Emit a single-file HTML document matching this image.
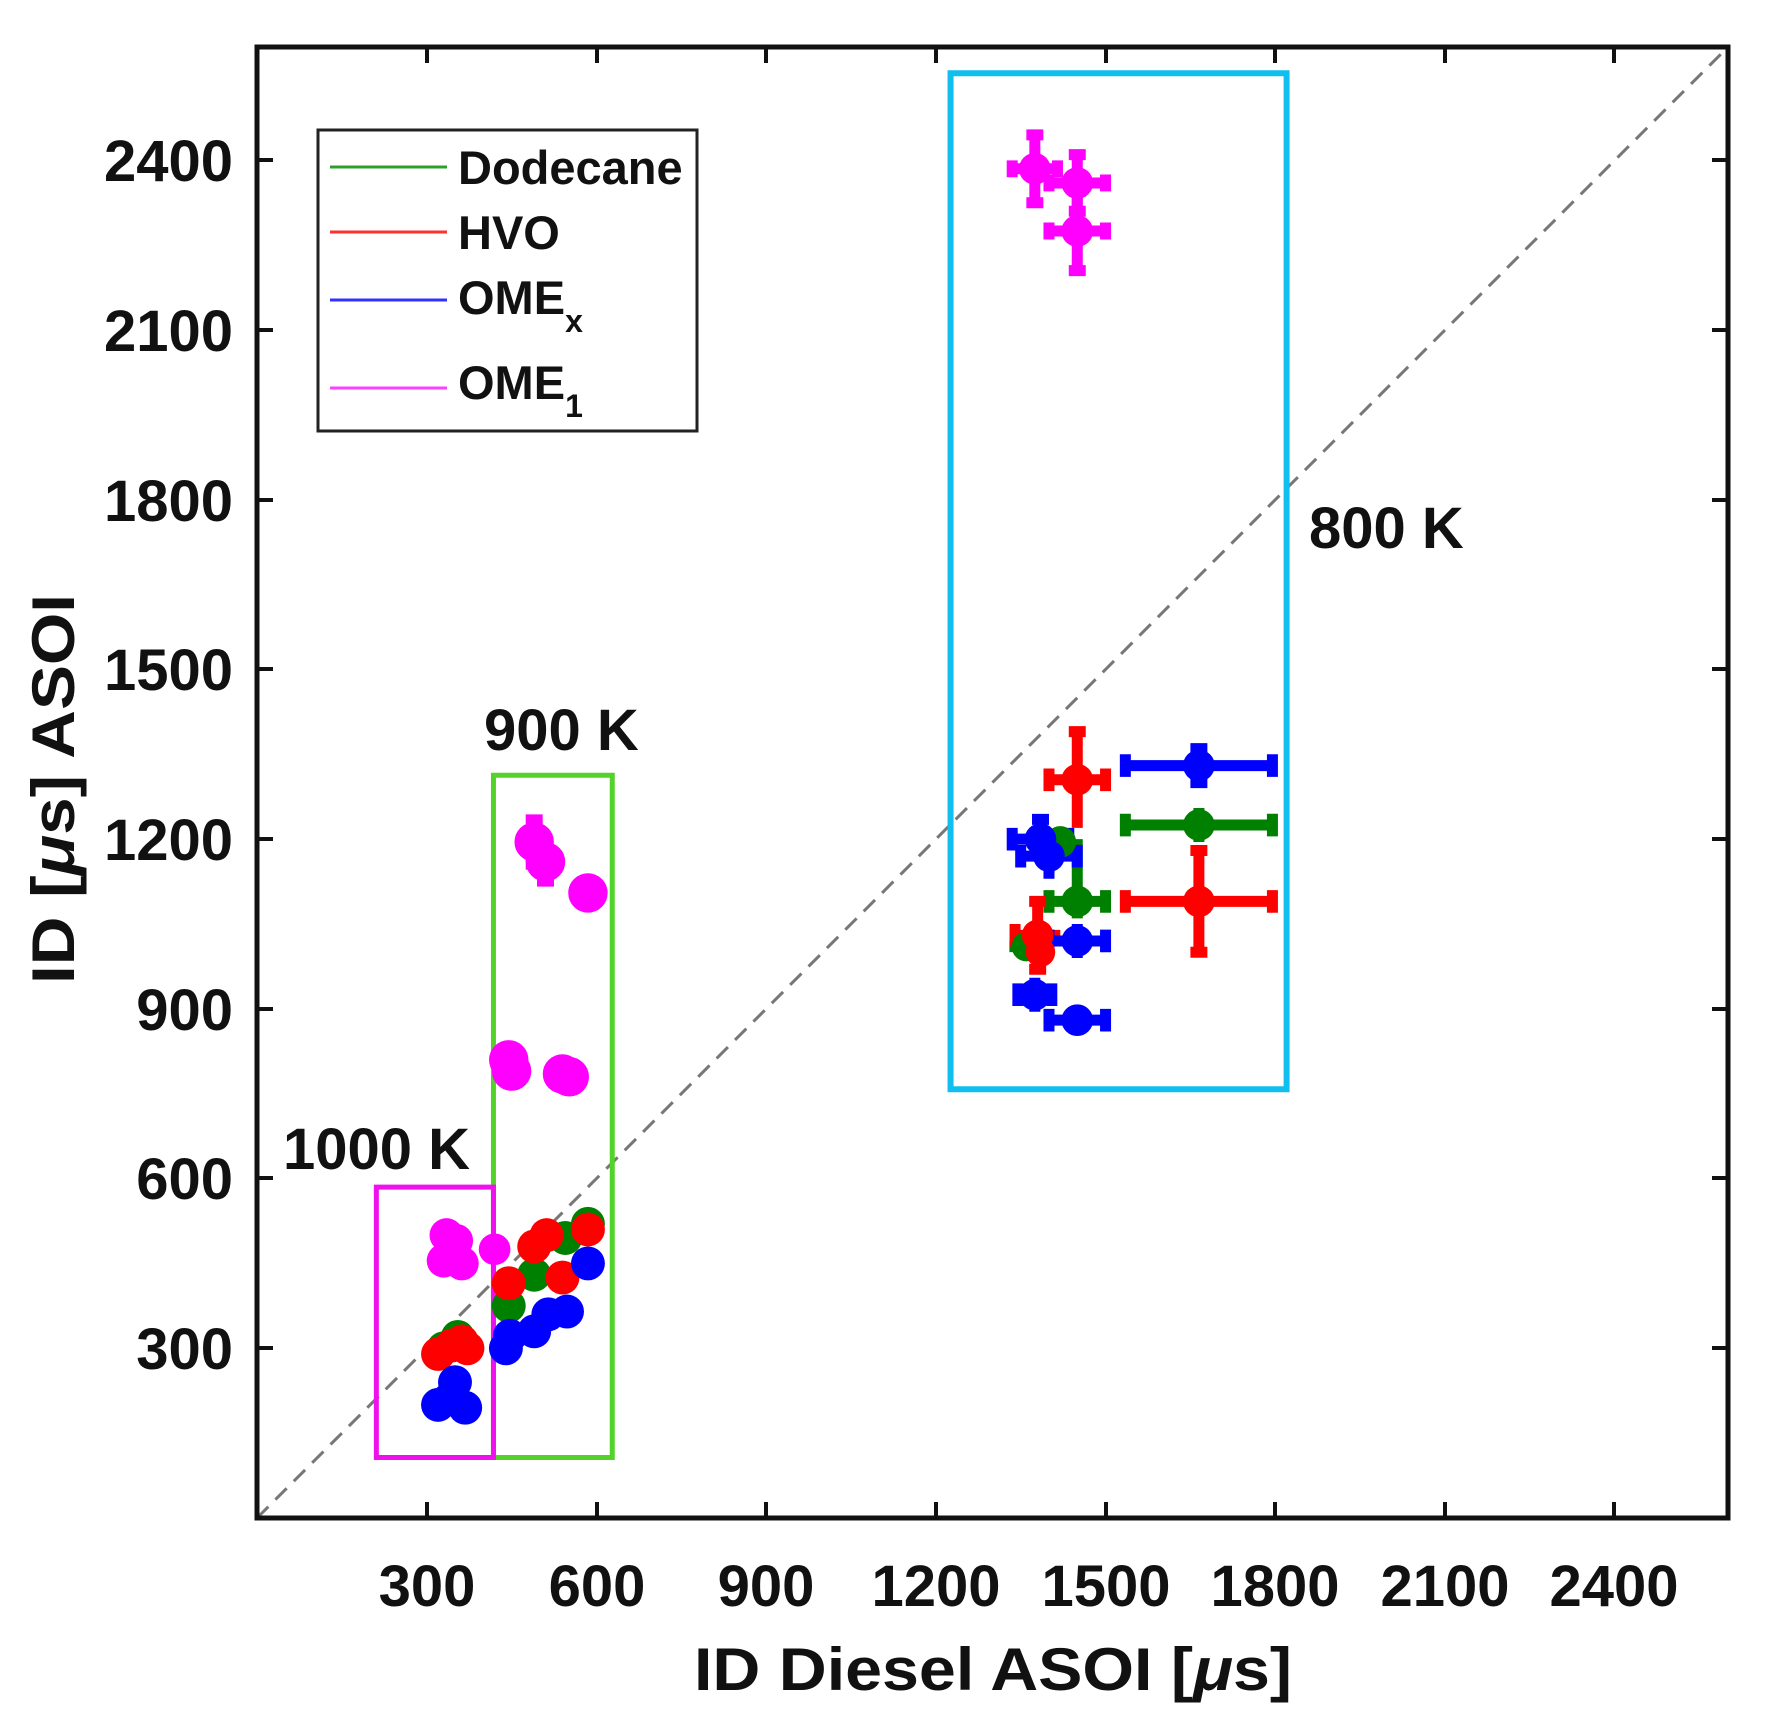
<!DOCTYPE html>
<html><head><meta charset="utf-8"><style>
html,body{margin:0;padding:0;background:#fff}
svg{display:block}
text{font-family:"Liberation Sans",Arial,sans-serif;font-weight:bold;fill:#111}
.d *{vector-effect:non-scaling-stroke}
</style></head><body>
<svg width="1765" height="1724" viewBox="0 0 1765 1724" xmlns="http://www.w3.org/2000/svg">
<rect width="1765" height="1724" fill="#fff"/>
<line x1="257" y1="1518" x2="1728" y2="47" stroke="#777" stroke-width="3" stroke-dasharray="16,10"/>
<g class="d" transform="matrix(0.5657,0,0,-0.5657,257,1518)">
 <rect x="418" y="107" width="210" height="1206" fill="none" stroke="#55d22a" stroke-width="5"/>
 <rect x="211" y="107" width="207" height="478" fill="none" stroke="#ee11ee" stroke-width="5"/>
 <rect x="1226" y="758" width="594" height="1796" fill="none" stroke="#10bff0" stroke-width="6"/>
 <g fill="#ff00ff">
  <circle cx="335" cy="500" r="30"/><circle cx="352" cy="490" r="30"/><circle cx="345" cy="460" r="30"/><circle cx="362" cy="450" r="30"/><circle cx="330" cy="455" r="30"/><circle cx="420" cy="475" r="28"/>
 </g>
 <g fill="#008000">
  <circle cx="330" cy="300" r="30"/><circle cx="355" cy="320" r="30"/><circle cx="445" cy="375" r="30"/><circle cx="490" cy="430" r="30"/><circle cx="545" cy="495" r="30"/><circle cx="585" cy="520" r="30"/>
 </g>
 <g fill="#ff0000">
  <circle cx="320" cy="290" r="30"/><circle cx="345" cy="305" r="30"/><circle cx="362" cy="312" r="30"/><circle cx="372" cy="300" r="30"/>
  <circle cx="445" cy="415" r="30"/><circle cx="490" cy="480" r="30"/><circle cx="512" cy="500" r="30"/><circle cx="540" cy="425" r="30"/><circle cx="585" cy="510" r="30"/>
 </g>
 <g fill="#0000ff">
  <circle cx="320" cy="200" r="30"/><circle cx="350" cy="240" r="30"/><circle cx="368" cy="195" r="30"/><circle cx="340" cy="210" r="30"/>
  <circle cx="440" cy="300" r="30"/><circle cx="447" cy="322" r="30"/><circle cx="490" cy="330" r="30"/><circle cx="515" cy="360" r="30"/><circle cx="548" cy="365" r="30"/><circle cx="585" cy="450" r="30"/>
 </g>
 <g fill="#ff00ff" stroke="#ff00ff" stroke-width="10">
  <circle cx="490" cy="1195" r="26"/><path d="M490 1155V1235M475 1235H505M475 1155H505"/>
  <circle cx="510" cy="1160" r="26"/><path d="M510 1125V1195M495 1125H525"/>
  <circle cx="585" cy="1105" r="26"/><circle cx="445" cy="810" r="26"/><circle cx="450" cy="790" r="26"/><circle cx="540" cy="785" r="26"/><circle cx="552" cy="780" r="26"/>
 </g>
 <g stroke-width="11" fill="none">
  <g stroke="#ff00ff"><path d="M1335 2385H1415M1335 2370V2400M1415 2370V2400M1375 2325V2445M1360 2325H1390M1360 2445H1390"/>
   <path d="M1400 2360H1500M1400 2345V2375M1500 2345V2375M1450 2310V2410M1435 2310H1465M1435 2410H1465"/>
   <path d="M1400 2275H1500M1400 2260V2290M1500 2260V2290M1450 2205V2345M1435 2205H1465M1435 2345H1465"/></g>
  <g stroke="#008000"><path d="M1535 1225H1795M1535 1205V1245M1795 1205V1245M1665 1195V1255"/>
   <path d="M1400 1090H1500M1400 1070V1110M1500 1070V1110M1450 1060V1200"/>
   <path d="M1330 1010H1400"/></g>
  <g stroke="#ff0000"><path d="M1400 1305H1500M1400 1285V1325M1500 1285V1325M1450 1220V1390M1435 1390H1465"/>
   <path d="M1535 1090H1795M1535 1070V1110M1795 1070V1110M1665 1000V1180M1650 1000H1680M1650 1180H1680"/>
   <path d="M1340 1030H1420M1340 1010V1050M1380 970V1090M1365 970H1395M1365 1090H1395"/></g>
  <g stroke="#0000ff"><path d="M1535 1330H1795M1535 1310V1350M1795 1310V1350M1665 1300V1360M1650 1360H1680M1650 1300H1680"/>
   <path d="M1335 1200H1435M1335 1180V1220M1435 1180V1220M1385 1165V1235M1370 1235H1400"/>
   <path d="M1350 1170H1450M1350 1150V1190M1450 1150V1190M1400 1130V1210"/>
   <path d="M1400 1020H1500M1400 1000V1040M1500 1000V1040M1450 990V1050"/>
   <path d="M1345 925H1405M1345 905V945M1405 905V945M1375 895V955"/>
   <path d="M1400 880H1500M1400 860V900M1500 860V900M1450 855V905"/></g>
 </g>
 <g fill="#ff00ff"><circle cx="1375" cy="2385" r="28"/><circle cx="1450" cy="2360" r="28"/><circle cx="1450" cy="2275" r="28"/></g>
 <g fill="#008000"><circle cx="1665" cy="1225" r="28"/><circle cx="1450" cy="1090" r="28"/><circle cx="1420" cy="1195" r="28"/><circle cx="1360" cy="1010" r="26"/></g>
 <g fill="#ff0000"><circle cx="1450" cy="1305" r="28"/><circle cx="1665" cy="1090" r="28"/><circle cx="1380" cy="1030" r="28"/><circle cx="1385" cy="1000" r="26"/></g>
 <g fill="#0000ff"><circle cx="1665" cy="1330" r="28"/><circle cx="1385" cy="1200" r="28"/><circle cx="1400" cy="1170" r="28"/><circle cx="1450" cy="1020" r="28"/><circle cx="1375" cy="925" r="28"/><circle cx="1450" cy="880" r="28"/></g>
</g>
<rect x="257" y="47" width="1471" height="1471" fill="none" stroke="#111" stroke-width="5"/>
<g stroke="#111" stroke-width="4">
 <path d="M427 1518V1502M597 1518V1502M766 1518V1502M936 1518V1502M1106 1518V1502M1275 1518V1502M1445 1518V1502M1614 1518V1502
 M427 47V63M597 47V63M766 47V63M936 47V63M1106 47V63M1275 47V63M1445 47V63M1614 47V63
 M257 1348H273M257 1178H273M257 1009H273M257 839H273M257 669H273M257 500H273M257 330H273M257 160H273
 M1728 1348H1712M1728 1178H1712M1728 1009H1712M1728 839H1712M1728 669H1712M1728 500H1712M1728 330H1712M1728 160H1712"/>
</g>
<g font-size="58" text-anchor="end">
 <text x="233" y="1369">300</text><text x="233" y="1199">600</text><text x="233" y="1030">900</text><text x="233" y="860">1200</text>
 <text x="233" y="690">1500</text><text x="233" y="521">1800</text><text x="233" y="351">2100</text><text x="233" y="181">2400</text>
</g>
<g font-size="58" text-anchor="middle">
 <text x="427" y="1606">300</text><text x="597" y="1606">600</text><text x="766" y="1606">900</text><text x="936" y="1606">1200</text>
 <text x="1106" y="1606">1500</text><text x="1275" y="1606">1800</text><text x="1445" y="1606">2100</text><text x="1614" y="1606">2400</text>
 <text x="993" y="1690" font-size="60" textLength="598" lengthAdjust="spacingAndGlyphs">ID Diesel ASOI [<tspan font-style="italic">μ</tspan>s]</text>
 <text transform="translate(74,789) rotate(-90)" font-size="60" textLength="390" lengthAdjust="spacingAndGlyphs">ID [<tspan font-style="italic">μ</tspan>s] ASOI</text>
</g>
<g font-size="58">
 <text x="283" y="1169">1000 K</text><text x="484" y="750">900 K</text><text x="1309" y="548">800 K</text>
</g>
<rect x="318" y="130" width="379" height="301" fill="#fff" stroke="#222" stroke-width="3"/>
<g stroke-width="3">
 <line x1="330" y1="167" x2="447" y2="167" stroke="#2ca02c"/>
 <line x1="330" y1="232" x2="447" y2="232" stroke="#ff3030"/>
 <line x1="330" y1="300" x2="447" y2="300" stroke="#3030ff"/>
 <line x1="330" y1="388" x2="447" y2="388" stroke="#ff40ff"/>
</g>
<g font-size="47">
 <text x="458" y="184">Dodecane</text>
 <text x="458" y="249">HVO</text>
 <text x="458" y="314">OME<tspan font-size="32" dy="18">x</tspan></text>
 <text x="458" y="399">OME<tspan font-size="32" dy="18">1</tspan></text>
</g>
</svg>
</body></html>
